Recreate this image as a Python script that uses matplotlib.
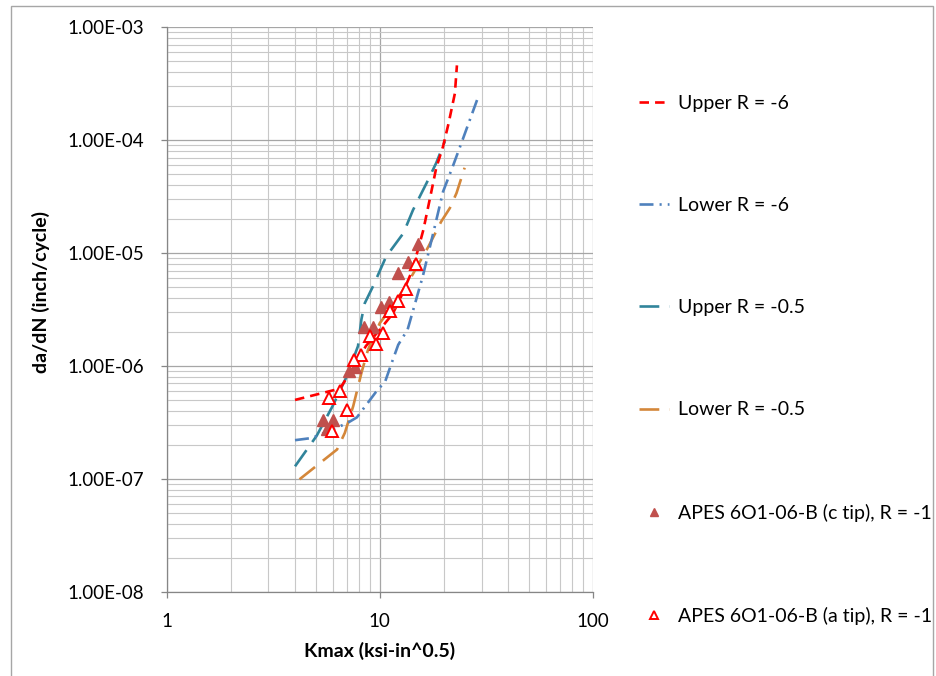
import matplotlib
matplotlib.use("Agg")
from matplotlib import pyplot as plt
from matplotlib.patches import Rectangle
from matplotlib.ticker import LogLocator, FixedLocator, FuncFormatter, NullFormatter

plt.rcParams["font.family"] = ["Lato", "DejaVu Sans"]

# band curves (Kmax in ksi-in^0.5, da/dN in inch/cycle)
upper_r6_k = [4.0, 6.5, 7.6, 8.6, 10.0, 11.5, 12.5, 14.1, 15.1, 16.0, 17.5, 18.4, 19.8, 21.0, 22.5, 23.0]
upper_r6_da = [5.0e-7, 6.3e-7, 1.0e-6, 1.5e-6, 2.1e-6, 2.9e-6, 4.0e-6, 6.8e-6, 1.07e-5, 1.6e-5,
               3.6e-5, 5.7e-5, 8.8e-5, 1.4e-4, 2.6e-4, 4.6e-4]

lower_r6_k = [4.0, 4.8, 7.0, 7.8, 8.7, 9.6, 10.6, 11.3, 12.2, 13.5, 15.9, 17.8, 19.8, 22.1, 24.6, 28.9]
lower_r6_da = [2.2e-7, 2.3e-7, 3.1e-7, 3.5e-7, 4.6e-7, 5.9e-7, 7.3e-7, 1.03e-6, 1.54e-6, 2.1e-6,
               6.2e-6, 1.5e-5, 3.5e-5, 6.0e-5, 1.04e-4, 2.4e-4]

upper_r05_k = [4.0, 5.05, 6.0, 7.0, 7.9, 8.2, 8.5, 9.3, 10.7, 12.9, 14.3, 16.6, 18.4, 20.2]
upper_r05_da = [1.29e-7, 2.4e-7, 4.4e-7, 8.1e-7, 1.5e-6, 2.6e-6, 3.6e-6, 5.1e-6, 9.3e-6, 1.5e-5,
                2.4e-5, 4.2e-5, 6.3e-5, 9.8e-5]

lower_r05_k = [4.2, 6.3, 6.85, 7.5, 8.2, 8.8, 10.0, 11.5, 13.8, 16.9, 19.4, 21.3, 22.9, 25.0]
lower_r05_da = [9.9e-8, 1.82e-7, 2.55e-7, 4.4e-7, 8.7e-7, 1.39e-6, 2.4e-6, 3.4e-6, 5.8e-6, 1.14e-5,
                1.9e-5, 2.5e-5, 3.4e-5, 5.7e-5]

# test data, APES 6O1-06-B, R = -1
c_tip_k = [15.1, 13.5, 12.2, 11.1, 10.1, 9.24, 8.41, 7.64, 7.16, 5.42, 6.0, 5.66]
c_tip_da = [1.21e-5, 8.3e-6, 6.65e-6, 3.66e-6, 3.33e-6, 2.21e-6, 2.21e-6, 9.7e-7, 9.1e-7,
            3.35e-7, 3.3e-7, 2.77e-7]
a_tip_k = [14.8, 13.3, 12.2, 11.2, 10.4, 8.98, 9.58, 8.12, 7.55, 6.5, 5.77, 7.03, 5.94]
a_tip_da = [8.0e-6, 4.8e-6, 3.8e-6, 3.04e-6, 1.96e-6, 1.83e-6, 1.57e-6, 1.26e-6, 1.12e-6,
            5.96e-7, 5.2e-7, 4.1e-7, 2.64e-7]

x_ticks = [1, 10, 100]
y_ticks = [1e-8, 1e-7, 1e-6, 1e-5, 1e-4, 1e-3]

fig = plt.figure(figsize=(9.36, 6.76), dpi=100)
ax = fig.add_axes([0.1781, 0.1247, 0.4554, 0.8349])

lw = 1.9
ax.plot(upper_r05_k, upper_r05_da, color="#31849B", lw=lw, dashes=(7.5, 3.8), label="Upper R = -0.5")
ax.plot(lower_r05_k, lower_r05_da, color="#D4873A", lw=lw, dashes=(7.5, 3.8), label="Lower R = -0.5")
ax.plot(lower_r6_k, lower_r6_da, color="#4F81BD", lw=lw, dashes=(5.3, 2.3, 0.8, 2.3), label="Lower R = -6")
ax.plot(upper_r6_k, upper_r6_da, color="#FF0000", lw=lw, dashes=(3.6, 2.3), label="Upper R = -6")
ax.plot(c_tip_k, c_tip_da, ls="none", marker="^", ms=9, color="#C0504D",
        label="APES 6O1-06-B (c tip), R = -1")
ax.plot(a_tip_k, a_tip_da, ls="none", marker="^", ms=9, mfc="white", mec="#FF0000", mew=1.4,
        label="APES 6O1-06-B (a tip), R = -1")

ax.set_xscale("log")
ax.set_yscale("log")
ax.set_xlim(1, 100)
ax.set_ylim(1e-8, 1e-3)

ax.xaxis.set_major_locator(FixedLocator(x_ticks))
ax.xaxis.set_major_formatter(FuncFormatter(lambda v, p: f"{v:g}"))
ax.yaxis.set_major_locator(FixedLocator(y_ticks))
ax.yaxis.set_major_formatter(FuncFormatter(lambda v, p: f"{v:.2E}"))
ax.xaxis.set_minor_locator(LogLocator(base=10, subs=range(2, 10)))
ax.yaxis.set_minor_locator(LogLocator(base=10, subs=range(2, 10)))
ax.xaxis.set_minor_formatter(NullFormatter())
ax.yaxis.set_minor_formatter(NullFormatter())

ax.grid(True, which="major", color="#A6A6A6", lw=0.9)
ax.grid(True, which="minor", color="#C8C8C8", lw=0.8)
ax.set_axisbelow(True)

for side in ["top", "right"]:
    ax.spines[side].set_visible(False)
for side in ["left", "bottom"]:
    ax.spines[side].set_color("#868686")
    ax.spines[side].set_linewidth(0.9)

ax.tick_params(which="major", length=4, width=0.9, color="#868686", labelsize=13.5, pad=11,
               labelcolor="#000000")
ax.tick_params(axis="y", which="major", pad=12)
ax.tick_params(which="minor", length=0)

ax.set_xlabel("Kmax (ksi-in^0.5)", fontsize=14, fontweight="bold", va="center")
ax.xaxis.set_label_coords(0.5, -0.105)
ax.set_ylabel("da/dN (inch/cycle)", fontsize=14, fontweight="bold", va="center")
ax.yaxis.set_label_coords(-0.296, 0.531)

handles, labels = ax.get_legend_handles_labels()
order = [3, 2, 0, 1, 4, 5]
fig.legend([handles[i] for i in order], [labels[i] for i in order],
           loc="upper left", bbox_to_anchor=(0.6635, 0.8855), frameon=False, fontsize=14,
           handlelength=1.55, handletextpad=0.5, labelspacing=4.38, markerscale=0.7)

# outer chart border
fig.add_artist(Rectangle((0.0118, -0.05), 0.9850, 1.0411, transform=fig.transFigure,
                         fill=False, edgecolor="#A6A6A6", lw=1))

fig.savefig("out.png", dpi=100)
